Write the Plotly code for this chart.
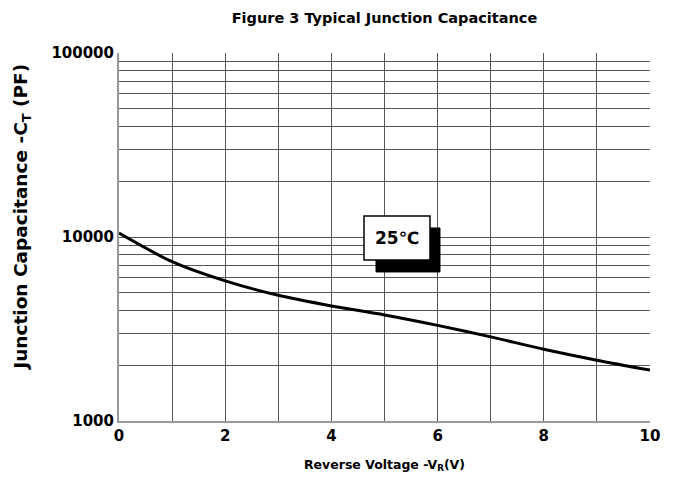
import plotly.graph_objects as go

voltage = [0, 1, 2, 3, 4, 5, 6, 7, 8, 9, 10]
capacitance = [10500, 7340, 5770, 4820, 4220, 3770, 3310, 2865, 2455, 2140, 1890]

x_tick_vals = list(range(0, 11))
x_tick_text = [str(v) if v % 2 == 0 else "" for v in x_tick_vals]

y_tick_vals = [m * 10 ** e for e in (3, 4) for m in range(1, 10)] + [100000]
y_tick_text = [str(v) if v in (1000, 10000, 100000) else "" for v in y_tick_vals]

FONT = "DejaVu Sans"

fig = go.Figure()
fig.add_trace(go.Scatter(
    x=voltage, y=capacitance, mode="lines",
    line=dict(color="black", width=3, shape="spline", smoothing=0.8),
    showlegend=False, hoverinfo="skip",
))

fig.update_layout(
    width=675, height=479,
    margin=dict(l=111, r=33, t=45, b=66),
    paper_bgcolor="white", plot_bgcolor="white",
    font=dict(family=FONT, color="black"),
    title=dict(text="<b>Figure 3 Typical Junction Capacitance</b>",
               xref="paper", x=0.5, xanchor="center", y=0.979, yanchor="middle",
               font=dict(size=14.5, family=FONT, color="black")),
    xaxis=dict(
        range=[0, 10], tickvals=x_tick_vals, ticktext=x_tick_text,
        showgrid=True, gridcolor="#555555", gridwidth=1,
        showline=True, linecolor="#999999", linewidth=2,
        ticks="", zeroline=False,
        tickfont=dict(size=15, family=FONT, color="black", weight="bold"),
        title=dict(text="<b>Reverse Voltage -V<sub>R</sub>(V)</b>",
                   font=dict(size=12.5, family=FONT, color="black"), standoff=16),
    ),
    yaxis=dict(
        type="log", range=[3, 5], tickvals=y_tick_vals, ticktext=y_tick_text,
        showgrid=True, gridcolor="#555555", gridwidth=1,
        showline=True, linecolor="#999999", linewidth=2,
        ticks="", zeroline=False,
        tickfont=dict(size=15, family=FONT, color="black", weight="bold"),
    ),
    shapes=[
        dict(type="rect", xref="paper", yref="paper",
             x0=0.484, x1=0.6045, y0=0.405, y1=0.5245,
             fillcolor="black", line=dict(color="black", width=1), layer="above"),
        dict(type="rect", xref="paper", yref="paper",
             x0=0.4614, x1=0.5857, y0=0.4375, y1=0.557,
             fillcolor="white", line=dict(color="black", width=1.5), layer="above"),
    ],
    annotations=[
        dict(text="<b>25℃</b>", xref="paper", yref="paper",
             x=(0.4614 + 0.5857) / 2, y=(0.4375 + 0.557) / 2,
             xanchor="center", yanchor="middle", showarrow=False,
             font=dict(size=17, family=FONT, color="black")),
        dict(text="<b>Junction Capacitance -C<sub>T</sub> (PF)</b>",
             xref="paper", yref="paper", x=-0.1827, y=0.555,
             xanchor="center", yanchor="middle", textangle=-90, showarrow=False,
             font=dict(size=18.5, family=FONT, color="black")),
    ],
)

fig.write_html("out.html")
